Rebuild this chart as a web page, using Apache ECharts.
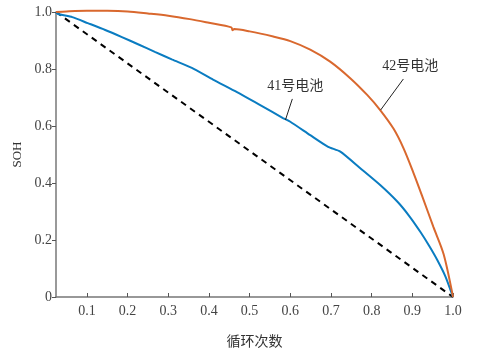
<!DOCTYPE html>
<html lang="zh">

<head>
    <meta charset="UTF-8">
    <style>
    html,
    body {
        height: 100%;
        margin: 0;
        background: #fff;
    }
  </style>
</head>

<body>
<div id="chart" style="width:495px;height:354px;"></div>
<script src="https://cdn.jsdelivr.net/npm/echarts@6/dist/echarts.min.js"></script>
<script>
    // 横轴：归一化循环次数，纵轴：SOH
    var xTicks = [0.1, 0.2, 0.3, 0.4, 0.5, 0.6, 0.7, 0.8, 0.9, 1.0];

    var cell41 = [
        [0.024, 1.0], [0.029, 0.993], [0.064, 0.982], [0.102, 0.961],
        [0.145, 0.937], [0.186, 0.912], [0.227, 0.886], [0.267, 0.860],
        [0.31, 0.833], [0.358, 0.804], [0.41, 0.763], [0.469, 0.719],
        [0.525, 0.674], [0.582, 0.628], [0.6, 0.615], [0.649, 0.568],
        [0.693, 0.527], [0.723, 0.510], [0.772, 0.452], [0.821, 0.393],
        [0.863, 0.335], [0.892, 0.285], [0.920, 0.228], [0.942, 0.178],
        [0.962, 0.128], [0.982, 0.070], [1.0, 0.0]
    ];

    var cell42 = [
        [0.024, 1.0], [0.05, 1.002], [0.1, 1.004], [0.15, 1.004],
        [0.2, 1.002], [0.25, 0.995], [0.3, 0.987], [0.353, 0.975],
        [0.40, 0.962], [0.455, 0.946], [0.458, 0.936], [0.462, 0.94],
        [0.50, 0.932], [0.558, 0.914], [0.6, 0.898], [0.649, 0.868],
        [0.698, 0.826], [0.748, 0.767], [0.789, 0.709], [0.821, 0.656],
        [0.854, 0.590], [0.879, 0.520], [0.903, 0.435], [0.924, 0.355],
        [0.952, 0.245], [0.977, 0.150], [1.0, 0.0]
    ];

    var reference = [[0.024, 1.0], [1.0, 0.0]];

    var labels = ['41号电池', '42号电池'];

    var serif = 'Liberation Serif, Times New Roman, Noto Sans CJK SC';

    var myChart = echarts.init(document.getElementById('chart'));
    myChart.setOption({
        animation: false,
        grid: {
            left: 56,
            right: 42,
            top: 12,
            bottom: 57
        },
        xAxis: {
            type: 'value',
            name: '循环次数',
            nameLocation: 'middle',
            nameGap: 38,
            nameTextStyle: { color: '#333', fontSize: 14, fontFamily: serif },
            min: 0.024,
            max: 1,
            splitLine: { show: false },
            axisLine: { lineStyle: { color: '#777', width: 1.5 } },
            axisTick: {
                inside: true,
                length: 4,
                customValues: xTicks,
                lineStyle: { color: '#555' }
            },
            axisLabel: {
                customValues: xTicks,
                color: '#444',
                fontSize: 14,
                fontFamily: serif,
                margin: 7,
                formatter: function (v) { return v.toFixed(1); }
            }
        },
        yAxis: {
            type: 'value',
            name: 'SOH',
            nameLocation: 'middle',
            nameGap: 32,
            nameTextStyle: { color: '#333', fontSize: 13, fontFamily: serif },
            min: 0,
            max: 1,
            interval: 0.2,
            splitLine: { show: false },
            axisLine: { show: true, lineStyle: { color: '#777', width: 1.5 } },
            axisTick: { show: true, length: 4, lineStyle: { color: '#555' } },
            axisLabel: {
                color: '#444',
                fontSize: 14,
                fontFamily: serif,
                margin: 4,
                formatter: function (v) { return v === 0 ? '0' : v.toFixed(1); }
            }
        },
        series: [
            {
                type: 'line',
                data: reference,
                showSymbol: false,
                clip: false,
                lineStyle: { color: '#000', width: 2, type: [6, 5] },
                z: 1
            },
            {
                type: 'line',
                name: labels[0],
                data: cell41,
                showSymbol: false,
                smooth: 0.2,
                clip: false,
                lineStyle: { color: '#0a7cc1', width: 2 },
                markLine: {
                    silent: true,
                    symbol: 'none',
                    label: { show: false },
                    lineStyle: { color: '#222', width: 1, type: 'solid' },
                    data: [[{ coord: [0.605, 0.695] }, { coord: [0.588, 0.621] }]]
                },
                markPoint: {
                    symbol: 'circle',
                    symbolSize: 0,
                    label: {
                        show: true,
                        position: 'inside',
                        color: '#333',
                        fontSize: 14,
                        fontFamily: serif,
                        formatter: labels[0]
                    },
                    data: [{ coord: [0.612, 0.740] }]
                }
            },
            {
                type: 'line',
                name: labels[1],
                data: cell42,
                showSymbol: false,
                smooth: 0.3,
                clip: false,
                lineStyle: { color: '#d9682e', width: 2 },
                markLine: {
                    silent: true,
                    symbol: 'none',
                    label: { show: false },
                    lineStyle: { color: '#222', width: 1, type: 'solid' },
                    data: [[{ coord: [0.878, 0.765] }, { coord: [0.822, 0.656] }]]
                },
                markPoint: {
                    symbol: 'circle',
                    symbolSize: 0,
                    label: {
                        show: true,
                        position: 'inside',
                        color: '#333',
                        fontSize: 14,
                        fontFamily: serif,
                        formatter: labels[1]
                    },
                    data: [{ coord: [0.895, 0.811] }]
                }
            }
        ]
    });
</script>
</body>
</html>
